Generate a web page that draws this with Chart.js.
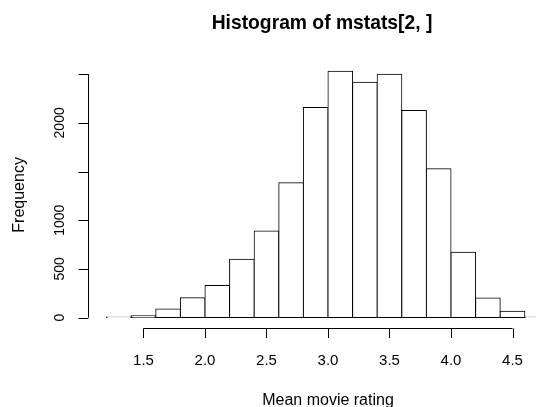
<!DOCTYPE html>
<html>
<head>
<meta charset="utf-8">
<script src="https://cdn.jsdelivr.net/npm/chart.js@4"></script>
<style>
  html, body { margin: 0; padding: 0; background: #fff; overflow: hidden; }
  canvas { display: block; }
</style>
</head>
<body>
<canvas id="hist" width="536" height="407"></canvas>
<script>
// histogram bins (mid points, width 0.2) and counts
const binMids = [1.3, 1.5, 1.7, 1.9, 2.1, 2.3, 2.5, 2.7, 2.9, 3.1, 3.3, 3.5, 3.7, 3.9, 4.1, 4.3, 4.5, 4.7];
const counts = [7, 18, 88, 205, 329, 599, 890, 1384, 2158, 2531, 2418, 2500, 2127, 1528, 671, 202, 65, 7];

// axis ticks (R leaves out labels that would overlap)
const xTicks = [1.5, 2.0, 2.5, 3.0, 3.5, 4.0, 4.5];
const xTickLabels = ["1.5", "2.0", "2.5", "3.0", "3.5", "4.0", "4.5"];
const yTicks = [0, 500, 1000, 1500, 2000, 2500];
const yTickLabels = ["0", "500", "1000", "", "2000", ""];

const titleText = "Histogram of mstats[2, ]";
const xTitle = "Mean movie rating";
const yTitle = "Frequency";

const FONT = "'Liberation Sans', Arial, Helvetica, sans-serif";

// draws the R style axes, labels and title with the chart's scales
const rAxes = {
  id: "rAxes",
  afterDraw(chart) {
    const ctx = chart.ctx;
    const xs = chart.scales.x;
    const ys = chart.scales.y;
    const area = chart.chartArea;
    const centerX = xs.getPixelForValue(3.0);

    ctx.save();
    ctx.strokeStyle = "#000";
    ctx.fillStyle = "#000";
    ctx.lineWidth = 1;

    // x axis
    const ax = area.bottom;
    ctx.beginPath();
    ctx.moveTo(xs.getPixelForValue(xTicks[0]), ax);
    ctx.lineTo(xs.getPixelForValue(xTicks[xTicks.length - 1]), ax);
    xTicks.forEach((v) => {
      const px = Math.round(xs.getPixelForValue(v)) + 0.5;
      ctx.moveTo(px, ax);
      ctx.lineTo(px, ax + 9.5);
    });
    ctx.stroke();

    ctx.font = "15px " + FONT;
    ctx.textAlign = "center";
    ctx.textBaseline = "alphabetic";
    xTicks.forEach((v, i) => {
      ctx.fillText(xTickLabels[i], xs.getPixelForValue(v), 364.5);
    });

    // y axis
    const ay = area.left;
    ctx.beginPath();
    ctx.moveTo(ay, ys.getPixelForValue(yTicks[0]));
    ctx.lineTo(ay, ys.getPixelForValue(yTicks[yTicks.length - 1]));
    yTicks.forEach((v) => {
      const py = Math.round(ys.getPixelForValue(v)) + 0.5;
      ctx.moveTo(ay, py);
      ctx.lineTo(ay - 10, py);
    });
    ctx.stroke();

    ctx.font = "14px " + FONT;
    yTicks.forEach((v, i) => {
      if (!yTickLabels[i]) return;
      ctx.save();
      ctx.translate(63.5, ys.getPixelForValue(v));
      ctx.rotate(-Math.PI / 2);
      ctx.fillText(yTickLabels[i], 0, 0);
      ctx.restore();
    });

    // axis titles
    ctx.font = "16px " + FONT;
    ctx.fillText(xTitle, centerX, 404.5);
    ctx.save();
    ctx.translate(24, (area.top + area.bottom) / 2);
    ctx.rotate(-Math.PI / 2);
    ctx.fillText(yTitle, 0, 0);
    ctx.restore();

    // main title
    ctx.font = "bold 19.3px " + FONT;
    ctx.fillText(titleText, centerX - 6, 29);

    ctx.restore();
  },
};

new Chart(document.getElementById("hist"), {
  type: "bar",
  data: {
    datasets: [
      {
        data: binMids.map((x, i) => ({ x: x, y: counts[i] })),
        backgroundColor: "#ffffff",
        borderColor: "#000000",
        borderWidth: 1,
        borderSkipped: false,
        inflateAmount: 0.5,
        barPercentage: 1,
        categoryPercentage: 1,
      },
    ],
  },
  options: {
    responsive: false,
    animation: false,
    devicePixelRatio: 1,
    layout: {
      padding: { left: 88.5, right: 0, top: 61.3, bottom: 78.5 },
    },
    scales: {
      x: { type: "linear", min: 1.053, max: 4.691, offset: false, display: false },
      y: { type: "linear", min: -112, max: 2632, display: false },
    },
    plugins: {
      legend: { display: false },
      tooltip: { enabled: false },
      title: { display: false },
    },
  },
  plugins: [rAxes],
});
</script>
</body>
</html>
